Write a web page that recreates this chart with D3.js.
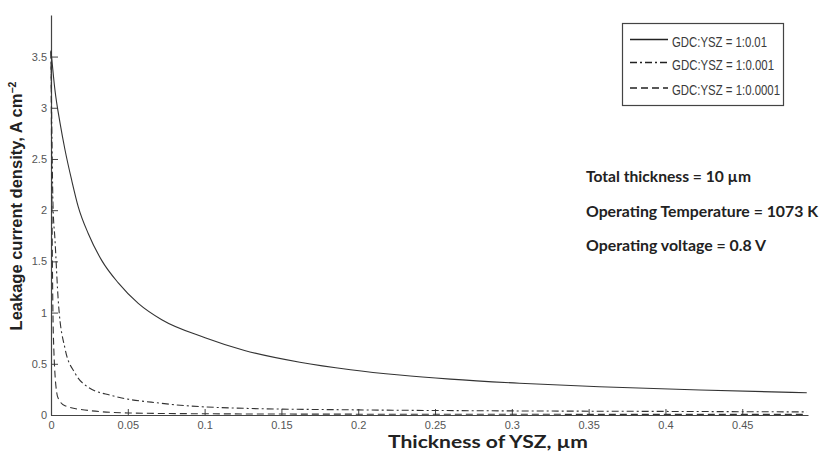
<!DOCTYPE html>
<html><head><meta charset="utf-8">
<script src="https://cdn.jsdelivr.net/npm/d3@7"></script>
<style>body{margin:0;background:#fff}svg{display:block}</style>
</head><body><svg id="c" width="820" height="453"></svg>
<script>
// Data
const seriesNames = ["GDC:YSZ = 1:0.01", "GDC:YSZ = 1:0.001", "GDC:YSZ = 1:0.0001"];
const solidT = [0, 0.0026, 0.0059, 0.0091, 0.0135, 0.0178, 0.0243, 0.033, 0.0438, 0.0568, 0.0721, 0.1003, 0.126, 0.162, 0.195, 0.227, 0.26, 0.305, 0.357, 0.4225, 0.492];
const solidJ = [3.56, 3.17, 2.85, 2.59, 2.29, 2.03, 1.77, 1.51, 1.29, 1.09, 0.93, 0.755, 0.63, 0.515, 0.442, 0.39, 0.35, 0.31, 0.276, 0.244, 0.218];
const dashDotT = [0, 0.0007, 0.0013, 0.0026, 0.0048, 0.0091, 0.0156, 0.0243, 0.0395, 0.072, 0.126, 0.2, 0.3, 0.4, 0.492];
const dashDotJ = [3.55, 2.6, 2.05, 1.71, 1.1, 0.65, 0.41, 0.27, 0.19, 0.114, 0.065, 0.05, 0.04, 0.035, 0.03];
const dashT = [0, 0.0004, 0.0009, 0.0015, 0.0037, 0.0048, 0.0091, 0.0243, 0.05, 0.1, 0.2, 0.3, 0.4, 0.492];
const dashJ = [3.55, 2.5, 1.5, 0.8, 0.22, 0.16, 0.09, 0.045, 0.02, 0.012, 0.008, 0.007, 0.006, 0.006];
const xTicks = [0, 0.05, 0.1, 0.15, 0.2, 0.25, 0.3, 0.35, 0.4, 0.45];
const yTicks = [0, 0.5, 1, 1.5, 2, 2.5, 3, 3.5];
const notes = ["Total thickness = 10 \u00b5m", "Operating Temperature = 1073 K", "Operating voltage = 0.8 V"];

const svg = d3.select("#c");
const x = d3.scaleLinear().domain([0, 0.4928]).range([51, 808]);
const y = d3.scaleLinear().domain([0, 3.906]).range([415, 15]);
const axisCol = "#444";

// axes
const gx = svg.append("g").attr("transform", "translate(0,415)")
  .call(d3.axisBottom(x).tickValues(xTicks).tickSize(-6).tickSizeOuter(0).tickPadding(6)
  .tickFormat(d => String(+d.toFixed(2))));
const gy = svg.append("g").attr("transform", "translate(51,0)")
  .call(d3.axisLeft(y).tickValues(yTicks).tickSize(-7).tickSizeOuter(0).tickPadding(4)
  .tickFormat(d => String(d)));
[gx, gy].forEach(g => {
  g.select(".domain").attr("stroke", axisCol).attr("stroke-width", 1.2);
  g.selectAll(".tick line").attr("stroke", axisCol).attr("stroke-width", 1);
  g.selectAll(".tick text").attr("fill", "#555").attr("font-family", "Liberation Sans, Arial, sans-serif").attr("font-size", 11);
});

// lines
const line = d3.line().x(d => x(d[0])).y(d => y(d[1])).curve(d3.curveMonotoneX);
const series = [
  {t: solidT, j: solidJ, dash: null},
  {t: dashDotT, j: dashDotJ, dash: "7,3,2,3"},
  {t: dashT, j: dashJ, dash: "7,4"}
];
series.forEach(s => {
  svg.append("path").datum(s.t.map((t, i) => [t, s.j[i]]))
    .attr("d", line).attr("fill", "none").attr("stroke", "#333").attr("stroke-width", 1.1)
    .attr("stroke-dasharray", s.dash);
});

// legend
const lg = svg.append("g");
lg.append("rect").attr("x", 622.5).attr("y", 23.5).attr("width", 161).attr("height", 82)
  .attr("fill", "#fff").attr("stroke", "#444").attr("stroke-width", 1.2);
const legY = [39.5, 62.5, 88];
seriesNames.forEach((n, i) => {
  lg.append("line").attr("x1", 630).attr("x2", 668).attr("y1", legY[i]).attr("y2", legY[i])
    .attr("stroke", "#222").attr("stroke-width", 1.3).attr("stroke-dasharray", series[i].dash);
  lg.append("text").attr("x", 672).attr("y", legY[i] + 7).text(n)
    .attr("font-family", "Liberation Sans Narrow, Liberation Sans, Arial, sans-serif")
    .attr("font-size", 15).attr("fill", "#3a3a3a")
    .attr("textLength", [95, 102, 108][i]).attr("lengthAdjust", "spacingAndGlyphs");
});

// annotations
const noteY = [182, 217, 251];
const noteW = [165, 232, 180];
notes.forEach((n, i) => {
  svg.append("text").attr("x", 586).attr("y", noteY[i]).text(n)
    .attr("font-family", "Lato, Open Sans, sans-serif").attr("font-weight", "bold")
    .attr("font-size", 15).attr("fill", "#222")
    .attr("textLength", noteW[i]).attr("lengthAdjust", "spacingAndGlyphs");
});

// axis titles
svg.append("text").attr("x", 388).attr("y", 448)
  .attr("font-family", "Lato, Open Sans, sans-serif").attr("font-weight", "bold")
  .attr("font-size", 16.5).attr("fill", "#222").text("Thickness of YSZ, \u00b5m")
  .attr("textLength", 200).attr("lengthAdjust", "spacingAndGlyphs");
const yl = svg.append("text").attr("transform", "translate(22,206) rotate(-90)")
  .attr("text-anchor", "middle").attr("font-family", "Liberation Sans, Arial, sans-serif")
  .attr("font-weight", "bold").attr("font-size", 16.5).attr("fill", "#222");
yl.append("tspan").text("Leakage current density, A cm");
yl.append("tspan").attr("dy", -6).attr("font-size", 10.5).text("\u22122");
</script></body></html>
